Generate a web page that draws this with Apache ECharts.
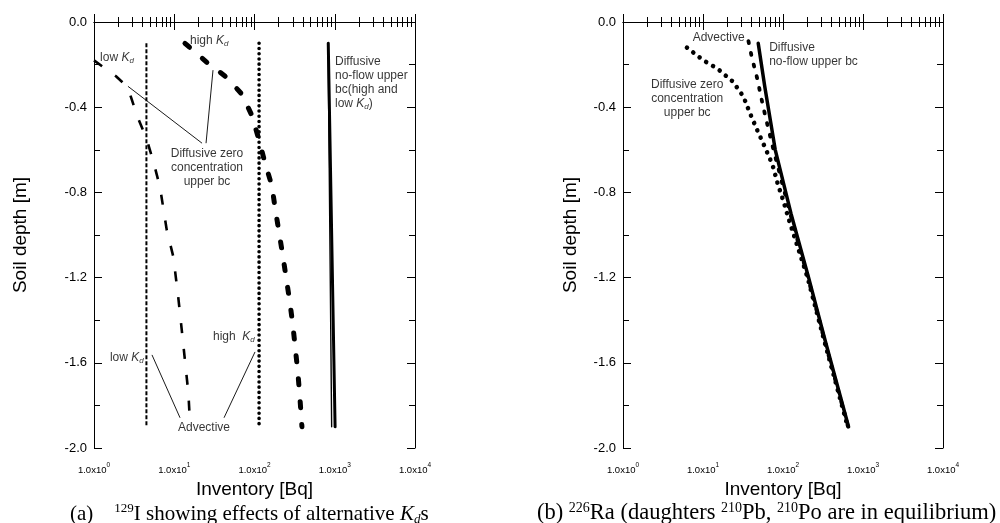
<!DOCTYPE html>
<html><head><meta charset="utf-8">
<script src="https://cdn.jsdelivr.net/npm/echarts@6/dist/echarts.min.js"></script>
<style>html,body{margin:0;padding:0;background:#fff}#c{width:1000px;height:523px}</style>
</head><body><div id="c"></div>
<script>
// ---------- data: panel (a) 129I ----------
const advLowDepth = [-0.10, -1.90];
const advLowInv = [4.5, 4.5];
const advHighDepth = [-0.10, -1.90];
const advHighInv = [114, 114];
const noFlowDepth = [-0.10, -1.90];
const noFlowHighInv = [830, 1010];
const noFlowLowInv = [825, 915];
const diffLowDepth = [-0.18, -0.255, -0.305, -0.353, -0.445, -0.54, -0.648, -0.775, -0.977, -1.102, -1.29, -1.445, -1.742, -1.90];
const diffLowInv = [1.0, 1.88, 2.61, 2.89, 3.48, 4.44, 5.43, 6.64, 8.07, 9.74, 11.2, 12.4, 15.0, 15.8];
const diffHighDepth = [-0.10, -0.19, -0.26, -0.34, -0.44, -0.54, -0.66, -0.77, -0.87, -1.10, -1.32, -1.43, -1.65, -1.77, -1.90];
const diffHighInv = [13.6, 25.6, 45, 70, 93, 111, 135, 165, 180, 226, 277, 302, 348, 369, 390];

// ---------- data: panel (b) 226Ra ----------
const raNoFlowDepth = [-0.10, -0.30, -0.60, -0.90, -1.20, -1.50, -1.90];
const raNoFlowInv = [49, 59, 80, 126, 209, 339, 660];
const raAdvDepth = [-0.09, -0.17, -0.27, -0.35, -0.44, -0.60, -0.90, -1.20, -1.50, -1.90];
const raAdvInv = [37, 41, 48, 53, 60, 76, 123, 205, 333, 650];
const raDiffZeroDepth = [-0.12, -0.18, -0.22, -0.28, -0.35, -0.43, -0.51, -0.59, -0.67, -0.76, -0.84, -0.93, -1.20, -1.50, -1.90];
const raDiffZeroInv = [6.3, 10.1, 15.3, 23.6, 32, 38.8, 47.9, 59.8, 73.8, 86, 101, 119, 203, 330, 645];

// ---------- axes ----------
const xMajorTicks = [1, 10, 100, 1000, 10000];
const xMinorTicks = [2,3,4,5,6,7,8,9,20,30,40,50,60,70,80,90,200,300,400,500,600,700,800,900,2000,3000,4000,5000,6000,7000,8000,9000];
const depthMin = -2.0, depthMax = 0.0, depthStep = 0.4;

// ---------- annotations (data coords: [inventory, depth, text, align]) ----------
const annotA = [
  [1.19, -0.166, '{t|low }{i|K}{s|d}', 'left'],
  [15.7, -0.086, '{t|high }{i|K}{s|d}', 'left'],
  [25.6, -0.686, '{t|Diffusive zero}\n{t|concentration}\n{t|upper bc}', 'center'],
  [1007, -0.285, '{t|Diffusive}\n{t|no-flow upper}\n{t|bc(high and}\n{t|low }{i|K}{s|d}{t|)}', 'left'],
  [30.4, -1.478, '{t|high  }{i|K}{s|d}', 'left'],
  [1.58, -1.577, '{t|low }{i|K}{s|d}', 'left'],
  [23.5, -1.905, '{t|Advective}', 'center']
];
const leaderA = [
  [[2.65, -0.302], [22.2, -0.569]],
  [[30.4, -0.226], [24.9, -0.569]],
  [[5.28, -1.563], [11.8, -1.858]],
  [[101.5, -1.549], [41.7, -1.858]]
];
const annotB = [
  [15.7, -0.072, '{t|Advective}', 'center'],
  [67.1, -0.154, '{t|Diffusive}\n{t|no-flow upper bc}', 'left'],
  [6.35, -0.36, '{t|Diffusive zero}\n{t|concentration}\n{t|upper bc}', 'center']
];

const zip = (xs, ys) => xs.map((x, i) => [x, ys[i]]);
const FONT = 'Liberation Sans';
const INK = '#000';

function xAxes(gridIndex) {
  const base = {type: 'log', logBase: 10, min: 1, max: 10000, gridIndex,
    splitLine: {show: false}, axisLine: {show: true, lineStyle: {color: INK, width: 1}}};
  return [
    Object.assign({}, base, {position: 'bottom',
      name: 'Inventory [Bq]', nameLocation: 'middle', nameGap: 32,
      nameTextStyle: {fontFamily: FONT, fontSize: 19, color: INK},
      axisTick: {show: true, inside: true, length: 8, customValues: xMajorTicks, lineStyle: {color: INK}},
      axisLabel: {show: true, margin: 14, customValues: xMajorTicks,
        formatter: v => '{a|1.0x10}{p|' + Math.round(Math.log10(v)) + '}',
        rich: {a: {fontFamily: FONT, fontSize: 9.5, color: INK, verticalAlign: 'bottom', lineHeight: 13},
               p: {fontFamily: FONT, fontSize: 6.5, color: INK, verticalAlign: 'top', lineHeight: 7}}}}),
    Object.assign({}, base, {position: 'bottom', axisLine: {show: false},
      axisTick: {show: true, inside: true, length: 5, customValues: xMinorTicks, lineStyle: {color: INK}},
      axisLabel: {show: false}}),
    Object.assign({}, base, {position: 'top',
      axisTick: {show: true, inside: true, length: 8, customValues: xMajorTicks, lineStyle: {color: INK}},
      axisLabel: {show: false}}),
    Object.assign({}, base, {position: 'top', axisLine: {show: false},
      axisTick: {show: true, inside: true, length: 5, customValues: xMinorTicks, lineStyle: {color: INK}},
      axisLabel: {show: false}})
  ];
}
function yAxes(gridIndex, nameGap) {
  const base = {type: 'value', min: depthMin, max: depthMax, interval: depthStep, gridIndex,
    splitLine: {show: false}, axisLine: {show: true, onZero: false, lineStyle: {color: INK, width: 1}},
    axisTick: {show: true, inside: true, length: 8, lineStyle: {color: INK}},
    minorTick: {show: true, splitNumber: 2, length: 6, lineStyle: {color: INK}},
    minorSplitLine: {show: false}};
  return [
    Object.assign({}, base, {position: 'left',
      name: 'Soil depth [m]', nameLocation: 'middle', nameGap,
      nameTextStyle: {fontFamily: FONT, fontSize: 19, color: INK},
      axisLabel: {show: true, margin: 7, fontFamily: FONT, fontSize: 13, color: INK,
        formatter: v => v.toFixed(1)}}),
    Object.assign({}, base, {position: 'right', axisLabel: {show: false}})
  ];
}

function line(xi, yi, data, width, type, extra) {
  return Object.assign({type: 'line', xAxisIndex: xi, yAxisIndex: yi, data, symbol: 'none',
    silent: true, clip: true,
    lineStyle: {color: '#000', width, type, cap: 'round', join: 'round'}}, extra || {});
}
function annotSeries(xi, yi, arr) {
  return {type: 'scatter', xAxisIndex: xi, yAxisIndex: yi, symbolSize: 0.01, silent: true,
    itemStyle: {color: 'rgba(0,0,0,0)'},
    data: arr.map(a => ({value: [a[0], a[1]],
      label: {show: true, position: 'inside', align: a[3], verticalAlign: 'middle',
        formatter: a[2], lineHeight: 14, color: INK,
        rich: {t: {fontFamily: FONT, fontSize: 12, color: INK, lineHeight: 14},
               i: {fontFamily: FONT, fontSize: 12, fontStyle: 'italic', color: INK, lineHeight: 14},
               s: {fontFamily: FONT, fontSize: 8, fontStyle: 'italic', color: INK, lineHeight: 9, verticalAlign: 'bottom'}}}}))};
}
function leaderSeries(xi, yi, arr) {
  return arr.map(seg => line(xi, yi, seg, 0.9, 'solid', {lineStyle: {color: '#000', width: 0.9}}));
}

const chart = echarts.init(document.getElementById('c'), null, {renderer: 'canvas'});
chart.setOption({
  animation: false,
  backgroundColor: '#fff',
  grid: [
    {left: 94, top: 22, width: 321, height: 426},
    {left: 623, top: 22, width: 320, height: 426}
  ],
  title: [
    {left: 65, top: 497, text: '(a)    {p|129}I showing effects of alternative {i|K}{s|d}s',
      textStyle: {fontFamily: 'Liberation Serif', fontSize: 21, fontWeight: 'normal', color: '#000', lineHeight: 24,
        rich: {p: {fontFamily: 'Liberation Serif', fontSize: 13, verticalAlign: 'top', lineHeight: 13, color: '#000'},
               i: {fontFamily: 'Liberation Serif', fontSize: 21, fontStyle: 'italic', color: '#000', lineHeight: 24},
               s: {fontFamily: 'Liberation Serif', fontSize: 13, fontStyle: 'italic', verticalAlign: 'bottom', lineHeight: 13, color: '#000'}}}},
    {left: 532, top: 496, text: '(b) {p|226}Ra (daughters {p|210}Pb, {p|210}Po are in equilibrium)',
      textStyle: {fontFamily: 'Liberation Serif', fontSize: 22.5, fontWeight: 'normal', color: '#000', lineHeight: 25,
        rich: {p: {fontFamily: 'Liberation Serif', fontSize: 14, verticalAlign: 'top', lineHeight: 14, color: '#000'}}}}
  ],
  xAxis: xAxes(0).concat(xAxes(1)),
  yAxis: yAxes(0, 64).concat(yAxes(1, 43)),
  series: [
    line(0, 0, zip(advLowInv, advLowDepth), 2, [4, 2], {lineStyle: {color: '#000', width: 2, type: [4, 2], cap: 'butt'}}),
    line(0, 0, zip(advHighInv, advHighDepth), 3.6, [0.01, 5.2]),
    line(0, 0, zip(noFlowLowInv, noFlowDepth), 1.4, 'solid'),
    line(0, 0, zip(noFlowHighInv, noFlowDepth), 3, 'solid'),
    line(0, 0, zip(diffLowInv, diffLowDepth), 2.6, [10, 16], {lineStyle: {color: '#000', width: 2.6, type: [10, 16], cap: 'butt'}}),
    line(0, 0, zip(diffHighInv, diffHighDepth), 5, [6, 17]),
    ...leaderSeries(0, 0, leaderA),
    annotSeries(0, 0, annotA),

    line(4, 2, zip(raNoFlowInv, raNoFlowDepth), 3.5, 'solid'),
    line(4, 2, zip(raAdvInv, raAdvDepth), 3.8, [2, 10]),
    line(4, 2, zip(raDiffZeroInv, raDiffZeroDepth), 4.6, [0.01, 8]),
    annotSeries(4, 2, annotB)
  ]
});
</script>
</body></html>
